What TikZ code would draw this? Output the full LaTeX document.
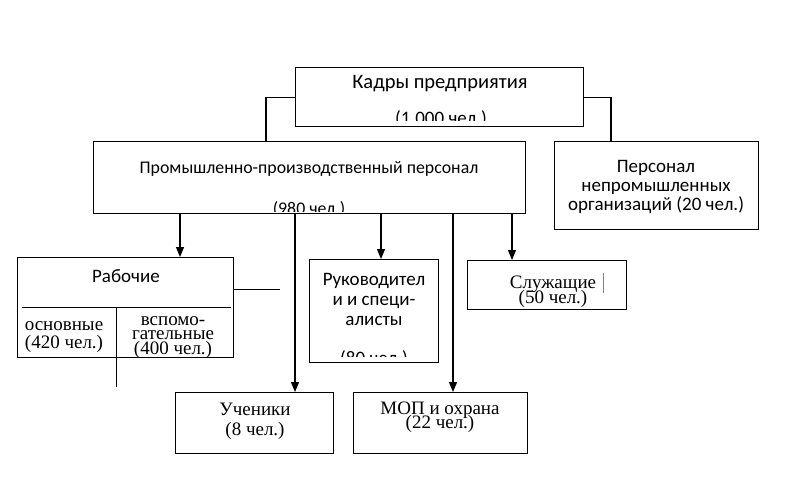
\documentclass[tikz,border=0pt]{standalone}
\usepackage{fontspec}
\setmainfont{Liberation Serif}
\newfontfamily\calibrifont{Carlito}
\usetikzlibrary{calc}
\usetikzlibrary{positioning}
\usetikzlibrary{arrows.meta}
\tikzset{
  myarrow/.style={
    draw=black,
    line width=1.2pt,
    -{Triangle[length=10pt,width=8pt]},
  },
  myline/.style={
    draw=black,
    line width=1.2pt,
  },
  mythinline/.style={
    draw=black,
    line width=0.8pt,
  },
  myrectangle/.style={
    draw=black,
    shape=rectangle,
    line width=1.2pt,
    inner sep=0pt,
    anchor=north west,
  },
  mytitle/.style={
    anchor=base,
    inner sep=0pt,
    font=\calibrifont\fontsize{20.5}{20}\selectfont
  },
  mysans/.style={
    anchor=base,
    inner sep=0pt,
    font=\calibrifont\fontsize{19}{19}\selectfont
  },
  mysmallsans/.style={
    anchor=base,
    inner sep=0pt,
    font=\calibrifont\fontsize{17.8}{18}\selectfont
  },
  myserif/.style={
    anchor=base,
    inner sep=0pt,
    font=\fontsize{19}{18}\selectfont
  },
}

\begin{document}
\begin{tikzpicture}[x=1pt, y=-1pt]
    \useasboundingbox (0,0) rectangle (795,490);

    % boxes
    \node[myrectangle, minimum width=288pt, minimum height=59pt]  (kadry) at (295,67)  {};
    \node[myrectangle, minimum width=432pt, minimum height=72pt]  (ppp)   at (93,141)  {};
    \node[myrectangle, minimum width=204pt, minimum height=88pt]  (npo)   at (554,141) {};
    \node[myrectangle, minimum width=216pt, minimum height=100pt] (rab)   at (17,257)  {};
    \node[myrectangle, minimum width=129pt, minimum height=103pt] (ruk)   at (309,259) {};
    \node[myrectangle, minimum width=159pt, minimum height=49pt]  (sluzh) at (467,260) {};
    \node[myrectangle, minimum width=158pt, minimum height=61pt]  (uchen) at (175,392) {};
    \node[myrectangle, minimum width=174pt, minimum height=61pt]  (mop)   at (353,392) {};

    % texts
    \node[mytitle] (kadrytxt) at (440,88) {Кадры предприятия};
    \begin{scope}
      \clip (296,68) rectangle (582,120);
      \node[mysans] (kadrynum) at (441,124) {(1.000 чел.)};
    \end{scope}

    \node[mysmallsans] (ppptxt) at (309,173) {Промышленно-производственный персонал};
    \begin{scope}
      \clip (94,142) rectangle (524,211);
      \node[mysmallsans] (pppnum) at (309,214) {(980 чел.)};
    \end{scope}

    \node[mysans] (npo1) at (656,172) {Персонал};
    \node[mysans] (npo2) at (656,191) {непромышленных};
    \node[mysans] (npo3) at (656,210) {организаций (20 чел.)};

    \node[mysans]  (rabtxt) at (126,282) {Рабочие};
    \node[myserif] (osn1)   at (64,330)  {основные};
    \node[myserif] (osn2)   at (64,348)  {(420 чел.)};
    \node[myserif] (vsp1)   at (173,325) {вспомо-};
    \node[myserif] (vsp2)   at (173,339) {гательные};
    \node[myserif] (vsp3)   at (173,354) {(400 чел.)};

    \node[mysans] (ruk1) at (374,285) {Руководител};
    \node[mysans] (ruk2) at (374,305) {и и специ-};
    \node[mysans] (ruk3) at (374,325) {алисты};
    \begin{scope}
      \clip (310,260) rectangle (437,356);
      \node[mysans] (ruknum) at (374,364) {(80 чел.)};
    \end{scope}

    \node[myserif] (sluzh1) at (553,288) {Служащие};
    \node[myserif] (sluzh2) at (553,303) {(50 чел.)};
    \coordinate (bartop) at (603,273);
    \coordinate (barbot) at (603,293);
    \draw[draw=gray, line width=0.6pt] (bartop) -- (barbot);

    \node[myserif] (uchen1) at (255,415) {Ученики};
    \node[myserif] (uchen2) at (255,435) {(8 чел.)};

    \node[myserif] (mop1) at (440,414) {МОП и охрана};
    \node[myserif] (mop2) at (440,428) {(22 чел.)};

    % connectors
    \coordinate (c1) at (266,0);
    \coordinate (c2) at (611,0);
    \draw[myline] (kadry.west) -| (ppp.north -| c1);
    \draw[myline] (kadry.east) -| (npo.north -| c2);

    \coordinate (a1) at (180,0);
    \coordinate (a2) at (295,0);
    \coordinate (a3) at (381,0);
    \coordinate (a4) at (453,0);
    \coordinate (a5) at (512,0);
    \draw[myarrow] (ppp.south -| a1) -- (rab.north -| a1);
    \draw[myarrow] (ppp.south -| a2) -- (uchen.north -| a2);
    \draw[myarrow] (ppp.south -| a3) -- (ruk.north -| a3);
    \draw[myarrow] (ppp.south -| a4) -- (mop.north -| a4);
    \draw[myarrow] (ppp.south -| a5) -- (sluzh.north -| a5);

    % inner lines of the workers box
    \coordinate (stub) at (280,289);
    \draw[mythinline] (rab.east |- stub) -- (stub);
    \coordinate (divl) at (22,307);
    \coordinate (divr) at (231,307);
    \draw[mythinline] (divl) -- (divr);
    \coordinate (vtop) at (116,307);
    \coordinate (vbot) at (116,387);
    \draw[mythinline] (vtop) -- (vbot);
\end{tikzpicture}
\end{document}
